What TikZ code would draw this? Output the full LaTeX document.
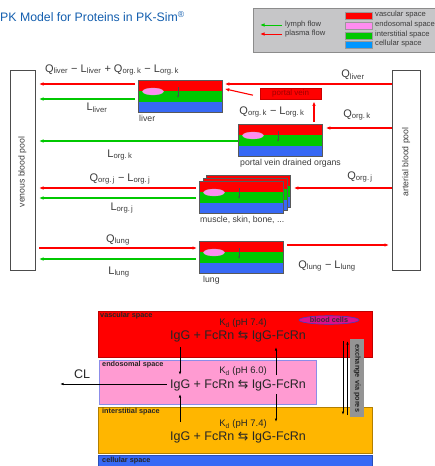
\documentclass[tikz,border=0pt]{standalone}
\usepackage{fontspec}
\setmainfont{Liberation Sans}
\newfontfamily\dejavu{DejaVu Sans}
\usetikzlibrary{arrows.meta,shapes.geometric}
\definecolor{vred}{RGB}{255,0,0}
\definecolor{igreen}{RGB}{0,200,0}
\definecolor{cblue}{RGB}{55,105,245}
\definecolor{lpink}{RGB}{255,140,240}
\definecolor{epink}{RGB}{255,155,210}
\definecolor{iorange}{RGB}{255,182,0}
\definecolor{titleblue}{RGB}{20,95,175}
\definecolor{legendgray}{RGB}{198,198,200}
\definecolor{lblue}{RGB}{0,150,255}
\definecolor{pvtext}{RGB}{160,0,0}
\definecolor{txt}{RGB}{60,60,60}
\newcommand\organblock[3]{%
  \fill[vred] (#2,#3) rectangle ++(84,11);
  \fill[igreen] (#2,#3+11) rectangle ++(84,10.5);
  \fill[cblue] (#2,#3+21.5) rectangle ++(84,10.5);
  \node[cellell] at (#2+15,#3+11.5) {};
  \draw[innerarr] (#2+40,#3+7) -- (#2+40,#3+18);
  \node[blockframe] (#1) at (#2,#3) {};
}
\begin{document}
\begin{tikzpicture}[x=1pt,y=-1pt,
  flow/.style={line width=1.1pt,-{Latex[length=4.5pt,width=3.5pt]}},
  plasma/.style={flow,draw=vred},
  lymph/.style={flow,draw=igreen},
  lbl/.style={font=\fontsize{11}{13}\selectfont, text=txt, inner sep=0},
  small/.style={font=\fontsize{8.7}{10}\selectfont, text=txt, inner sep=0},
  legtxt/.style={font=\fontsize{7.6}{9}\selectfont, text=txt, inner sep=0, anchor=west},
  swatch/.style={draw=black!40, line width=0.5pt, minimum width=27pt, minimum height=7pt, inner sep=0, anchor=north west},
  pool/.style={draw=black!70, line width=1pt, fill=white, inner sep=0, anchor=north west},
  cellell/.style={ellipse, fill=lpink, draw=black!25, line width=0.3pt, minimum width=21pt, minimum height=7pt, inner sep=0},
  innerarr/.style={draw=black!70, line width=0.5pt, -{Latex[length=2.5pt,width=2pt]}},
  blockframe/.style={draw=black!65, line width=0.8pt, minimum width=84pt, minimum height=32pt, inner sep=0, anchor=north west},
  space/.style={line width=0.8pt, inner sep=0, anchor=north west},
  spacelbl/.style={font=\fontsize{7.3}{8}\selectfont\bfseries, text=black!85, inner sep=0, anchor=west},
  kd/.style={font=\fontsize{9.5}{11}\selectfont, text=black!85, inner sep=0},
  eq/.style={font=\fontsize{12.5}{14}\selectfont, text=black!85, inner sep=0},
  blk/.style={draw=black, line width=0.8pt, -{Latex[length=3.5pt,width=2.5pt]}}
]
\useasboundingbox (0,0) rectangle (435,466);
\fill[white] (0,0) rectangle (435,466);

% title
\node[anchor=base west, text=titleblue, inner sep=0, font=\fontsize{12.3}{14}\selectfont] (title) at (0,21.5) {PK Model for Proteins in PK-Sim\textsuperscript{\textregistered}};

% legend
\node[draw=black!45, fill=legendgray, line width=0.6pt, minimum width=184pt, minimum height=44pt, inner sep=0, anchor=north west] (legend) at (253,8) {};
\coordinate (lgA1) at (282,25); \coordinate (lgA2) at (260,25);
\coordinate (lgB1) at (282,34); \coordinate (lgB2) at (260,34);
\draw[lymph, line width=1pt] (lgA1) -- (lgA2);
\draw[plasma, line width=1pt] (lgB1) -- (lgB2);
\node[legtxt] (lglymph) at (285,25) {lymph flow};
\node[legtxt] (lgplasma) at (285,34) {plasma flow};
\node[swatch, fill=vred] (sw1) at (345,12) {};
\node[swatch, fill=lpink] (sw2) at (345,22) {};
\node[swatch, fill=igreen] (sw3) at (345,31.5) {};
\node[swatch, fill=lblue] (sw4) at (345,41) {};
\node[legtxt] (lt1) at (375,15) {vascular space};
\node[legtxt] (lt2) at (375,25) {endosomal space};
\node[legtxt] (lt3) at (375,34.5) {interstitial space};
\node[legtxt] (lt4) at (375,44) {cellular space};

% blood pools
\node[pool, minimum width=25pt, minimum height=200pt] (venous) at (10,70) {};
\node[small, rotate=90] (venoustxt) at (22.5,172) {venous blood pool};
\node[pool, minimum width=28pt, minimum height=200pt] (arterial) at (392,70) {};
\node[small, rotate=90] (arterialtxt) at (406,162) {arterial blood pool};

% organ blocks
\organblock{liver}{138}{80}
\node[small, anchor=north west] (livertxt) at (139,115) {liver};
\node[fill=vred, draw=red!80!black, line width=0.4pt, minimum width=61pt, minimum height=11pt, inner sep=0, anchor=north west, font=\fontsize{8}{9}\selectfont, text=pvtext] (pv) at (260,88) {portal vein};
\organblock{pvo}{238}{124}
\node[small, anchor=north west] (pvotxt) at (240,159) {portal vein drained organs};
\organblock{muscleback}{206}{175}
\organblock{musclemid}{202.5}{178}
\organblock{muscle}{199}{181}
\node[small, anchor=north west] (muscletxt) at (200,216) {muscle, skin, bone, ...};
\organblock{lung}{199}{241}
\node[small, anchor=north west] (lungtxt) at (203,276) {lung};

% flows
\draw[plasma, shorten <=3pt, shorten >=3pt] (liver.west |- 0,84) -- (venous.east |- 0,84);
\node[lbl] (qlivtot) at (112,70) {Q\textsubscript{liver} − L\textsubscript{liver} + Q\textsubscript{org.\,k} − L\textsubscript{org.\,k}};
\draw[lymph, shorten <=3pt, shorten >=3pt] (liver.west |- 0,99) -- (venous.east |- 0,99);
\node[lbl] (lliv) at (97,108) {L\textsubscript{liver}};
\draw[lymph, shorten <=0pt, shorten >=3pt] (pvo.west |- 0,141) -- (venous.east |- 0,141);
\node[lbl] (lorgk) at (120,155) {L\textsubscript{org.\,k}};
\draw[plasma, shorten >=2pt] (arterial.west |- 0,84) -- (liver.east |- 0,84);
\node[lbl] (qliv) at (353,75) {Q\textsubscript{liver}};
\draw[plasma, shorten >=2pt] ([xshift=-7pt,yshift=-1.5pt]pv.west) -- ([yshift=8pt]liver.east);
\draw[plasma, shorten <=2pt, shorten >=2pt] (pvo.north -| 314,0) -- (pv.south -| 314,0);
\node[lbl] (qmlk) at (272,112) {Q\textsubscript{org.\,k} − L\textsubscript{org.\,k}};
\draw[plasma, shorten >=3pt] (arterial.west |- 0,128) -- (pvo.east |- 0,128);
\node[lbl] (qorgk) at (357,115) {Q\textsubscript{org.\,k}};
\draw[plasma, shorten >=3pt] (arterial.west |- 0,188) -- (muscleback.east |- 0,188);
\node[lbl] (qorgj) at (360,177) {Q\textsubscript{org.\,j}};
\draw[plasma, shorten <=3pt, shorten >=3pt] (muscle.west |- 0,188) -- (venous.east |- 0,188);
\node[lbl] (qmlj) at (120,179) {Q\textsubscript{org.\,j} − L\textsubscript{org.\,j}};
\draw[lymph, shorten <=3pt, shorten >=3pt] (muscle.west |- 0,198) -- (venous.east |- 0,198);
\node[lbl] (lorgj) at (122,208) {L\textsubscript{org.\,j}};
\draw[plasma, shorten <=3pt, shorten >=2pt] (venous.east |- 0,248) -- (lung.west |- 0,248);
\node[lbl] (qlung) at (118,240) {Q\textsubscript{lung}};
\draw[lymph, shorten <=3pt, shorten >=3pt] (lung.west |- 0,259) -- (venous.east |- 0,259);
\node[lbl] (llung) at (119,272) {L\textsubscript{lung}};
\draw[plasma, shorten <=3pt, shorten >=3pt] (lung.east |- 0,245) -- (arterial.west |- 0,245);
\node[lbl] (qmll) at (327,266) {Q\textsubscript{lung} − L\textsubscript{lung}};

% bottom diagram
\node[space, fill=vred, draw=red!75!black, minimum width=274pt, minimum height=46pt] (vasc) at (98,311) {};
\node[space, fill=epink, draw=black!20!blue!45, minimum width=217pt, minimum height=44pt] (endo) at (99,360) {};
\node[space, fill=iorange, draw=black!30!iorange, minimum width=274pt, minimum height=46pt] (inter) at (98,407) {};
\node[space, fill=cblue, draw=black!25!cblue, minimum width=274pt, minimum height=16pt] (cell) at (98,455) {};
\node[spacelbl] (vasclbl) at (100,315.5) {vascular space};
\node[spacelbl] (endolbl) at (102,364.5) {endosomal space};
\node[spacelbl] (interlbl) at (102,411.5) {interstitial space};
\node[spacelbl] (celllbl) at (102,461) {cellular space};

\node[ellipse, fill=magenta!90!violet, draw=blue!50!gray, line width=0.6pt, minimum width=60pt, minimum height=8.5pt, inner sep=0, font=\fontsize{7.3}{8}\selectfont\bfseries, text=black!80] (bc) at (329,320) {blood cells};

\node[kd] (kdv) at (243,323) {K\textsubscript{d} (pH 7.4)};
\node[eq] (eqv) at (238,336) {IgG + FcRn {\dejavu ⇆} IgG-FcRn};
\node[kd] (kde) at (243,371.5) {K\textsubscript{d} (pH 6.0)};
\node[eq] (eqe) at (238,385.5) {IgG + FcRn {\dejavu ⇆} IgG-FcRn};
\node[kd] (kdi) at (243,424) {K\textsubscript{d} (pH 7.4)};
\node[eq] (eqi) at (238,437.5) {IgG + FcRn {\dejavu ⇆} IgG-FcRn};

\coordinate (v1a) at (180,347); \coordinate (v1b) at (180,375);
\coordinate (v2a) at (276,375); \coordinate (v2b) at (276,347);
\coordinate (v3a) at (180,422); \coordinate (v3b) at (180,394);
\coordinate (v4a) at (276,394); \coordinate (v4b) at (276,422);
\draw[blk] (v1a) -- (v1b);
\draw[blk] (v2a) -- (v2b);
\draw[blk] (v3a) -- (v3b);
\draw[blk] (v4a) -- (v4b);

\coordinate (clend) at (60,384);
\draw[blk] ([xshift=-3pt,yshift=1.5pt]eqe.west) -- (clend);
\node[font=\fontsize{12.5}{14}\selectfont, text=black!85, inner sep=0] (cl) at (82,374) {CL};

\node[fill=black!42, minimum width=14pt, minimum height=78pt, inner sep=0, anchor=north west] (pores) at (350,339) {};
\node[rotate=-90, font=\fontsize{7.3}{8}\selectfont\bfseries, text=black!85, inner sep=0] (porestxt) at (pores.center) {exchange via pores};
\coordinate (p1a) at (343,341); \coordinate (p1b) at (343,415);
\coordinate (p2a) at (347.5,415); \coordinate (p2b) at (347.5,341);
\draw[blk, line width=0.7pt] (p1a) -- (p1b);
\draw[blk, line width=0.7pt] (p2a) -- (p2b);
\end{tikzpicture}
\end{document}
